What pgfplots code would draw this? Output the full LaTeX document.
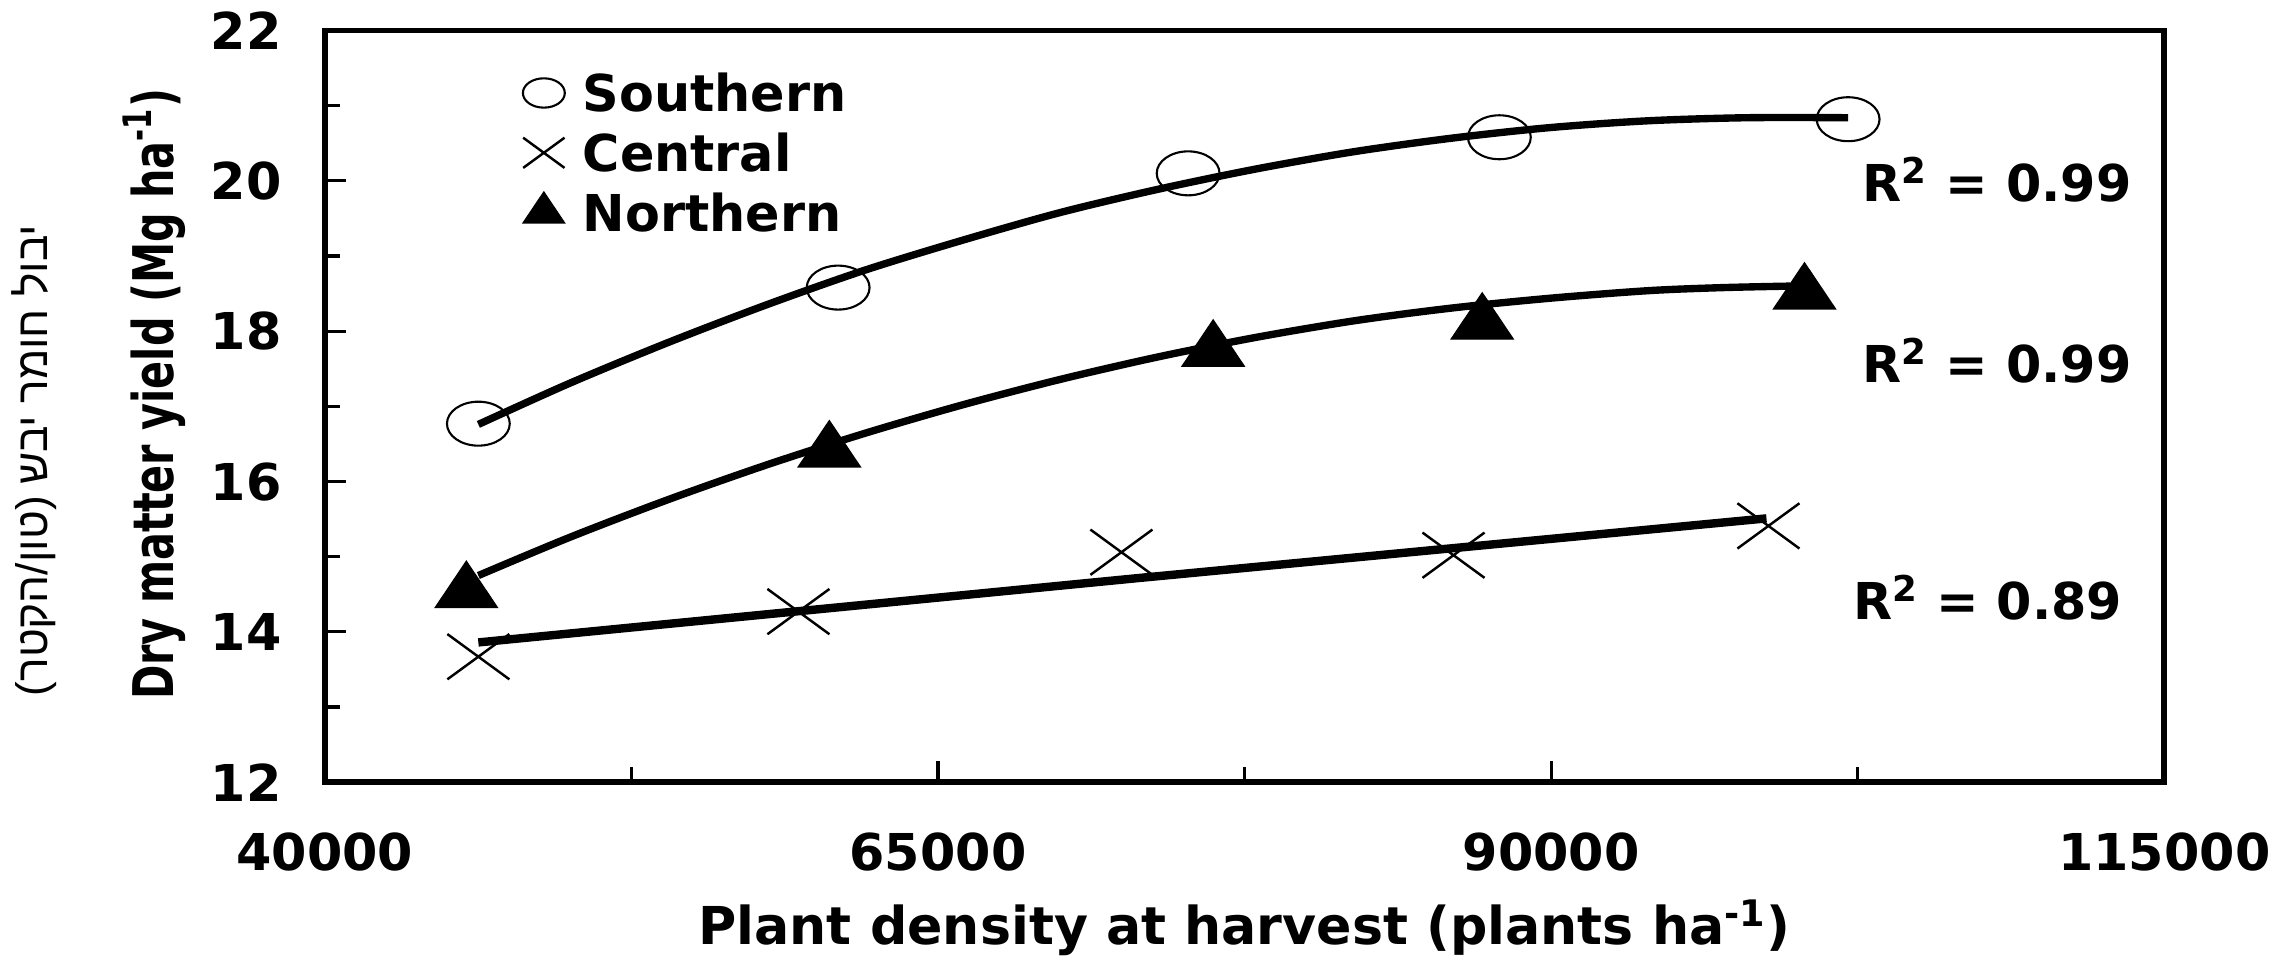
\documentclass[border=0pt]{standalone}
\usepackage{pgfplots}
\pgfplotsset{compat=1.18}
\usepackage{fontspec}
\setmainfont{DejaVu Sans}
\newfontfamily\hebfont[Script=Hebrew]{Liberation Sans}
\TeXXeTstate=1
\newcommand\fs[1]{\fontsize{#1}{#1}\selectfont}

\begin{document}
\begin{tikzpicture}
\begin{axis}[
  scale only axis, width=18.45cm, height=7.54cm,
  xmin=40000, xmax=115000, ymin=12, ymax=22,
  xtick={40000,65000,90000,115000}, ytick={12,14,16,18,20,22},
  xticklabels={40000,65000,90000,115000},
  yticklabels={12,14,16,18,20,22},
  minor x tick num=1, minor y tick num=1,
  tick pos=left,
  major tick length=0.21cm, minor tick length=0.15cm,
  tick style={line width=0.9pt, black},
  axis line style={line width=1.7pt},
  clip=false,
  scaled x ticks=false,
  ticklabel style={font=\bfseries\fs{14.5}},
  yticklabel style={xshift=-0.31cm},
  xticklabel style={yshift=-0.38cm},
  xlabel={Plant density at harvest (plants ha\textsuperscript{-1})},
  xlabel style={at={(axis description cs:0.5,-0.216)}, anchor=base, font=\bfseries\fs{14.9}},
  ylabel={\scalebox{0.738}[1]{Dry matter yield (Mg ha\textsuperscript{-1})}},
  ylabel style={at={(axis description cs:-0.0927,0.516)}, anchor=center, font=\bfseries\fs{16}},
  legend image code/.code={\draw[#1,/tikz/every mark/.append style={scale=0.667}] plot coordinates {(0cm,0cm)};},
  legend style={at={(axis description cs:0.1073,0.949)}, anchor=north west, draw=none, fill=none,
    inner sep=0pt, row sep=0.13cm, column sep=0.18cm,
    font=\bfseries\fs{14.5},
    nodes={inner sep=0pt, text height=0.42cm, text depth=0.05cm}},
  legend cell align=left,
]
% fitted curves
\addplot[forget plot, smooth, line width=2.1pt] coordinates {
 (46260,16.76) (50000,17.31) (54000,17.85) (58000,18.35) (62000,18.81)
 (66000,19.21) (70000,19.58) (74000,19.89) (78000,20.16) (82000,20.39)
 (86000,20.57) (90000,20.71) (94000,20.80) (98000,20.84) (102110,20.84)};
\addplot[forget plot, smooth, line width=2.1pt] coordinates {
 (46260,14.75) (50000,15.26) (54000,15.76) (58000,16.22) (62000,16.64)
 (66000,17.02) (70000,17.36) (74000,17.66) (78000,17.92) (82000,18.14)
 (86000,18.31) (90000,18.44) (94000,18.54) (97000,18.58) (99750,18.60)};
\addplot[forget plot, line width=2.4pt] coordinates {
 (46260,13.86) (73290,14.72) (98780,15.51)};

% observations
\addplot[only marks, mark=o, mark size=0.315cm, mark options={line width=0.6pt, yscale=0.70}]
 coordinates {(46260,16.77) (60930,18.58) (75200,20.10) (87890,20.58) (102110,20.82)};
\addplot[only marks, mark=x, mark size=0.44cm, mark options={line width=0.7pt, yscale=0.73}]
 coordinates {(46260,13.67) (59310,14.27) (72480,15.06) (86020,15.02) (98860,15.41)};
\addplot[only marks, mark=triangle*, mark size=0.358cm, mark options={fill=black, yscale=0.86}]
 coordinates {(45770,14.53) (60570,16.40) (76220,17.74) (87190,18.10) (100330,18.50)};
\legend{Southern, Central, Northern}

\node[anchor=base, font=\bfseries\fs{14.5}] at (axis description cs:0.909,0.772) {R\textsuperscript{2}\hspace{0.35em}=\hspace{0.35em}0.99};
\node[anchor=base, font=\bfseries\fs{14.5}] at (axis description cs:0.909,0.532) {R\textsuperscript{2}\hspace{0.35em}=\hspace{0.35em}0.99};
\node[anchor=base, font=\bfseries\fs{14.5}] at (axis description cs:0.904,0.216) {R\textsuperscript{2}\hspace{0.35em}=\hspace{0.35em}0.89};
\node[rotate=90, anchor=center, font=\hebfont\fs{12.6}] at (axis description cs:-0.158,0.428) {\beginR יבול חומר יבש (טון/הקטר)\endR};
\end{axis}
\path (-3.23,-1.76) rectangle (19.59,7.80);
\end{tikzpicture}
\end{document}
